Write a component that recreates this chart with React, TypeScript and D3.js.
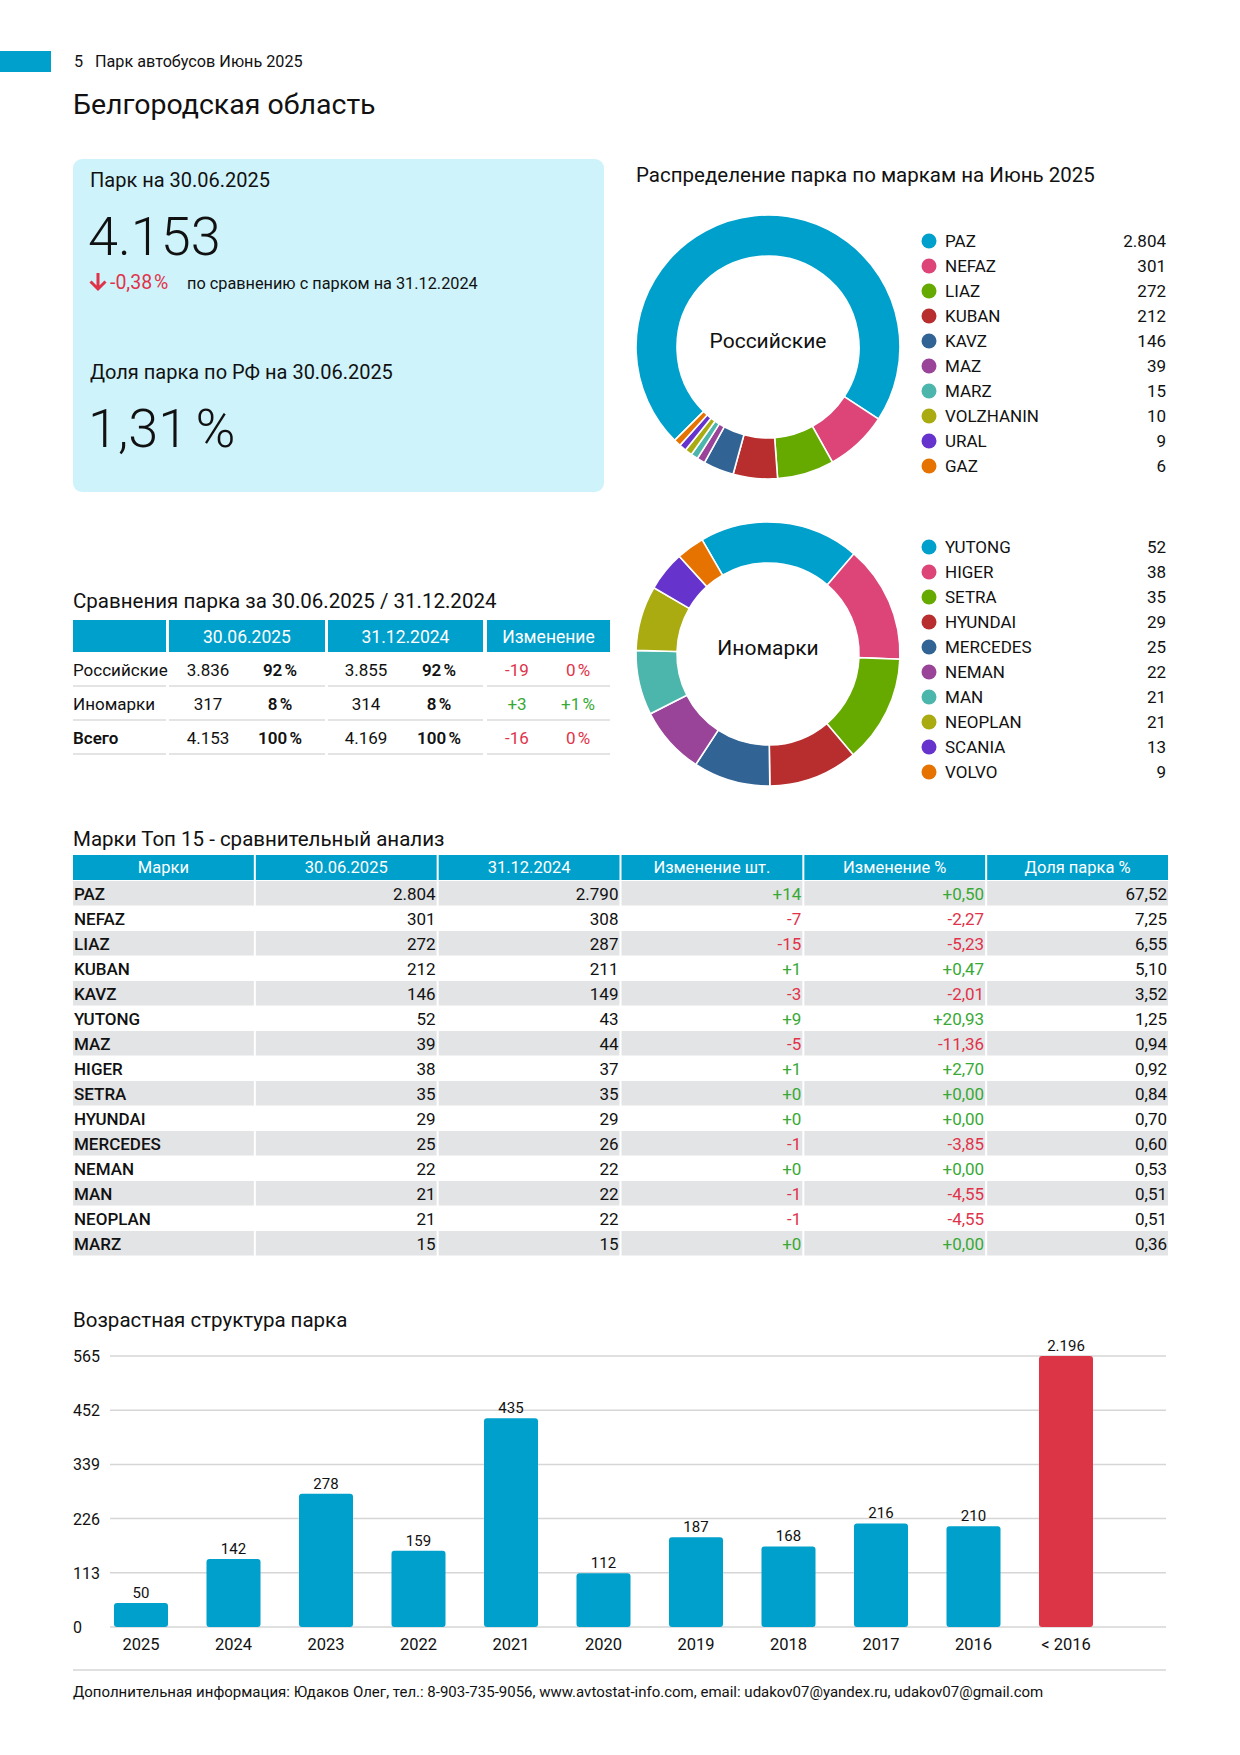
import * as d3 from 'd3'

// ---- data ----
const russianBrands = ['PAZ', 'NEFAZ', 'LIAZ', 'KUBAN', 'KAVZ', 'MAZ', 'MARZ', 'VOLZHANIN', 'URAL', 'GAZ']
const russianCounts = [2804, 301, 272, 212, 146, 39, 15, 10, 9, 6]
const foreignBrands = ['YUTONG', 'HIGER', 'SETRA', 'HYUNDAI', 'MERCEDES', 'NEMAN', 'MAN', 'NEOPLAN', 'SCANIA', 'VOLVO']
const foreignCounts = [52, 38, 35, 29, 25, 22, 21, 21, 13, 9]
const sliceColors = ['#00a0cc', '#dd4477', '#66aa00', '#b82e2e', '#316395', '#994499', '#4db6ac', '#aaaa11', '#6633cc', '#e67300']

const compareGroups = ['Российские', 'Иномарки', 'Всего']
const compareJun = [3836, 317, 4153]
const compareJunShare = ['92 %', '8 %', '100 %']
const compareDec = [3855, 314, 4169]
const compareDecShare = ['92 %', '8 %', '100 %']
const compareDiff = [-19, 3, -16]
const compareDiffShare = ['0 %', '+1 %', '0 %']

const topHeaders = ['Марки', '30.06.2025', '31.12.2024', 'Изменение шт.', 'Изменение %', 'Доля парка %']
const topBrands = ['PAZ', 'NEFAZ', 'LIAZ', 'KUBAN', 'KAVZ', 'YUTONG', 'MAZ', 'HIGER', 'SETRA', 'HYUNDAI', 'MERCEDES', 'NEMAN', 'MAN', 'NEOPLAN', 'MARZ']
const topJun = [2804, 301, 272, 212, 146, 52, 39, 38, 35, 29, 25, 22, 21, 21, 15]
const topDec = [2790, 308, 287, 211, 149, 43, 44, 37, 35, 29, 26, 22, 22, 22, 15]
const topDiff = [14, -7, -15, 1, -3, 9, -5, 1, 0, 0, -1, 0, -1, -1, 0]
const topDiffPct = [0.5, -2.27, -5.23, 0.47, -2.01, 20.93, -11.36, 2.7, 0, 0, -3.85, 0, -4.55, -4.55, 0]
const topShare = [67.52, 7.25, 6.55, 5.1, 3.52, 1.25, 0.94, 0.92, 0.84, 0.7, 0.6, 0.53, 0.51, 0.51, 0.36]

const ageYears = ['2025', '2024', '2023', '2022', '2021', '2020', '2019', '2018', '2017', '2016', '< 2016']
const ageCounts = [50, 142, 278, 159, 435, 112, 187, 168, 216, 210, 2196]
const ageTicks = [0, 113, 226, 339, 452, 565]

// ---- styling ----
const FONT = "Roboto, 'Noto Sans', sans-serif"
const BLUE = '#00a0cc'
const RED = '#e0334a'
const GREEN = '#38a935'
const TEXT = '#111'

const ru = d3.formatLocale({ decimal: ',', thousands: '.', grouping: [3], currency: ['', ''], minus: '-' })
const fmtInt = ru.format(',d')
const fmtDiff = ru.format('+d')
const fmtPct = ru.format('+.2f')
const fmtShare = ru.format('.2f')

type DonutProps = { cx: number; cy: number; label: string; brands: string[]; counts: number[]; start: number; legendY: number }

const Donut = ({ cx, cy, label, brands, counts, start, legendY }: DonutProps) => {
  // tiny slices get a minimum visible size, like the original chart does
  const minVal = d3.sum(counts) * 0.009
  const pie = d3
    .pie<number>()
    .sort(null)
    .value((d) => Math.max(d, minVal))
    .startAngle(start)
    .endAngle(start + Math.PI * 2)
  const arc = d3.arc<d3.PieArcDatum<number>>().innerRadius(91).outerRadius(132)
  const arcs = pie(counts)
  const legend = d3.scalePoint<string>().domain(brands).range([legendY, legendY + 25 * (brands.length - 1)])
  return (
    <g>
      <g transform={`translate(${cx},${cy})`}>
        {arcs.map((a, i) => (
          <path key={brands[i]} d={arc(a) || ''} fill={sliceColors[i]} stroke="#fff" strokeWidth={1.6} />
        ))}
        <text textAnchor="middle" y={1} fontSize={21} fill={TEXT}>{label}</text>
      </g>
      {brands.map((b, i) => (
        <g key={b} transform={`translate(0,${legend(b)})`}>
          <circle cx={929} cy={0} r={7.5} fill={sliceColors[i]} />
          <text x={945} y={6} fontSize={17} fill={TEXT}>{b}</text>
          <text x={1166} y={6} fontSize={17} fill={TEXT} textAnchor="end">{fmtInt(counts[i])}</text>
        </g>
      ))}
    </g>
  )
}

const CompareTable = () => {
  const cols = [
    [73, 166],
    [169, 325],
    [328, 483],
    [487, 610],
  ]
  const row = d3.scaleBand<string>().domain(compareGroups).range([652, 754])
  return (
    <g>
      <text x={73} y={608} fontSize={20.5} fill={TEXT}>Сравнения парка за 30.06.2025 / 31.12.2024</text>
      {cols.map(([a, b], i) => (
        <rect key={i} x={a} y={620} width={b - a} height={32} fill={BLUE} />
      ))}
      {['30.06.2025', '31.12.2024', 'Изменение'].map((t, i) => (
        <text key={t} x={(cols[i + 1][0] + cols[i + 1][1]) / 2} y={643} textAnchor="middle" fontSize={17.5} fill="#fff">{t}</text>
      ))}
      {compareGroups.map((g, i) => {
        const y0 = row(g) || 0
        const h = row.bandwidth()
        const by = y0 + h / 2 + 7
        const bold = i === 2
        const c = compareDiff[i] < 0 ? RED : GREEN
        return (
          <g key={g}>
            {cols.map(([a, b], j) => (
              <line key={j} x1={a} x2={b} y1={y0 + h} y2={y0 + h} stroke="#e4e4e4" strokeWidth={2} />
            ))}
            <text x={73} y={by} fontSize={17} fill={TEXT} fontWeight={bold ? 600 : 400}>{g}</text>
            <text x={208} y={by} fontSize={17} fill={TEXT} textAnchor="middle">{fmtInt(compareJun[i])}</text>
            <text x={280} y={by} fontSize={17} fill={TEXT} textAnchor="middle" fontWeight={600} wordSpacing={-2}>{compareJunShare[i]}</text>
            <text x={366} y={by} fontSize={17} fill={TEXT} textAnchor="middle">{fmtInt(compareDec[i])}</text>
            <text x={439} y={by} fontSize={17} fill={TEXT} textAnchor="middle" fontWeight={600} wordSpacing={-2}>{compareDecShare[i]}</text>
            <text x={517} y={by} fontSize={17} fill={c} textAnchor="middle">{fmtDiff(compareDiff[i])}</text>
            <text x={578} y={by} fontSize={17} fill={c} textAnchor="middle" wordSpacing={-2}>{compareDiffShare[i]}</text>
          </g>
        )
      })}
    </g>
  )
}

const TopTable = () => {
  const colX = d3.scaleBand<number>().domain(d3.range(6)).range([73, 1168]).paddingInner(0.011)
  const rowY = d3.scaleBand<string>().domain(topBrands).range([881, 881 + 25 * topBrands.length])
  return (
    <g>
      <text x={73} y={846} fontSize={20.5} fill={TEXT}>Марки Топ 15 - сравнительный анализ</text>
      {topHeaders.map((h, i) => (
        <g key={h}>
          <rect x={colX(i)} y={855} width={colX.bandwidth()} height={25} fill={BLUE} />
          <text x={(colX(i) || 0) + colX.bandwidth() / 2} y={873} textAnchor="middle" fontSize={16.5} fill="#fff">{h}</text>
        </g>
      ))}
      {topBrands.map((b, r) => {
        const y = rowY(b) || 0
        const by = y + 18.5
        const c = topDiff[r] < 0 ? RED : GREEN
        const right = (i: number) => (colX(i) || 0) + colX.bandwidth() - 1
        const cells = [fmtInt(topJun[r]), fmtInt(topDec[r]), fmtDiff(topDiff[r]), fmtPct(topDiffPct[r]), fmtShare(topShare[r])]
        const colors = [TEXT, TEXT, c, c, TEXT]
        return (
          <g key={b}>
            {r % 2 === 0 &&
              d3.range(6).map((i) => (
                <rect key={i} x={colX(i)} y={y} width={colX.bandwidth()} height={rowY.bandwidth() - 0.5} fill="#e3e4e6" />
              ))}
            <text x={74} y={by} fontSize={17} fontWeight={500} fill={TEXT}>{b}</text>
            {cells.map((t, i) => (
              <text key={i} x={right(i + 1)} y={by} fontSize={17} fill={colors[i]} textAnchor="end">{t}</text>
            ))}
          </g>
        )
      })}
    </g>
  )
}

const AgeChart = () => {
  const x = d3.scaleBand<string>().domain(ageYears).range([94.75, 1112.25]).paddingInner(0.416).paddingOuter(0.208)
  const y = d3.scaleLinear().domain([0, 565]).range([1627, 1356]).clamp(true)
  return (
    <g>
      <text x={73} y={1327} fontSize={20.5} fill={TEXT}>Возрастная структура парка</text>
      {ageTicks.map((t) => (
        <g key={t}>
          <line x1={110} x2={1166} y1={y(t)} y2={y(t)} stroke="#d6d6d6" strokeWidth={1.5} />
          <text x={73} y={y(t) + 6} fontSize={16} fill={TEXT}>{t}</text>
        </g>
      ))}
      {ageYears.map((yr, i) => {
        const bx = x(yr) || 0
        const top = y(ageCounts[i])
        const last = i === ageYears.length - 1
        return (
          <g key={yr}>
            <rect x={bx} y={top} width={x.bandwidth()} height={y(0) - top} rx={3} fill={last ? '#dc3545' : BLUE} />
            <text x={bx + x.bandwidth() / 2} y={top - 5} textAnchor="middle" fontSize={15} fill={TEXT}>{fmtInt(ageCounts[i])}</text>
            <text x={bx + x.bandwidth() / 2} y={1650} textAnchor="middle" fontSize={16.5} fill={TEXT}>{yr}</text>
          </g>
        )
      })}
    </g>
  )
}

export default function App() {
  return (
    <svg width={1240} height={1755} style={{ position: 'absolute', left: 0, top: 0, background: '#fff' }} fontFamily={FONT}>
      <rect width={1240} height={1755} fill="#fff" />
      {/* page header */}
      <rect x={0} y={51} width={51} height={21} fill={BLUE} />
      <text x={74} y={67} fontSize={16.2} fill={TEXT}>5</text>
      <text x={95} y={67} fontSize={16.2} fill={TEXT}>Парк автобусов Июнь 2025</text>
      <text x={73} y={114} fontSize={28.5} fill={TEXT}>Белгородская область</text>

      {/* summary card */}
      <rect x={73} y={159} width={531} height={333} rx={9} fill="#cff3fb" />
      <text x={90} y={187} fontSize={20} fill={TEXT}>Парк на 30.06.2025</text>
      <text x={88} y={255} fontSize={54} fontWeight={300} fill={TEXT}>{fmtInt(4153)}</text>
      <path d="M98,273 L98,289 M90.5,281.5 L98,289 L105.5,281.5" stroke={RED} strokeWidth={3} fill="none" />
      <text x={110} y={289} fontSize={19.5} fill={RED} wordSpacing={-3}>-0,38 %</text>
      <text x={187} y={289} fontSize={16.3} fill={TEXT}>по сравнению с парком на 31.12.2024</text>
      <text x={90} y={379} fontSize={20} fill={TEXT}>Доля парка по РФ на 30.06.2025</text>
      <text x={88} y={447} fontSize={54} fontWeight={300} fill={TEXT} wordSpacing={-6}>1,31 %</text>

      {/* donuts */}
      <text x={636} y={182} fontSize={20.5} fill={TEXT}>Распределение парка по маркам на Июнь 2025</text>
      <Donut cx={768} cy={347} label="Российские" brands={russianBrands} counts={russianCounts} start={(-135 * Math.PI) / 180} legendY={241} />
      <Donut cx={768} cy={654} label="Иномарки" brands={foreignBrands} counts={foreignCounts} start={(-30 * Math.PI) / 180} legendY={547} />

      <CompareTable />
      <TopTable />
      <AgeChart />

      {/* footer */}
      <line x1={73} x2={1166} y1={1670} y2={1670} stroke="#d6d6d6" strokeWidth={1.5} />
      <text x={73} y={1697} fontSize={15} fill={TEXT}>
        Дополнительная информация: Юдаков Олег, тел.: 8-903-735-9056, www.avtostat-info.com, email: udakov07@yandex.ru, udakov07@gmail.com
      </text>
    </svg>
  )
}
